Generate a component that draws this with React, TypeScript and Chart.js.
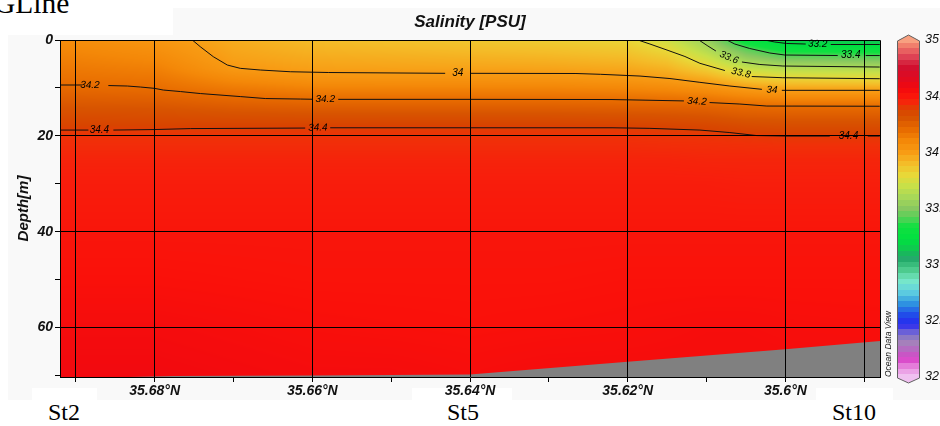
import { useEffect, useRef } from 'react';
import { Chart, registerables } from 'chart.js';

Chart.register(...registerables);

// Section extent: latitude (reversed, north on the left) and depth (down)
const latMin = 35.588;
const latMax = 35.692;
const depthMax = 70.3;
const salinityMin = 32;
const salinityMax = 35;

const xTickValues = [35.59, 35.6, 35.61, 35.62, 35.63, 35.64, 35.65, 35.66, 35.67, 35.68, 35.69];
const xTickLabels = ['', '35.6°N', '', '35.62°N', '', '35.64°N', '', '35.66°N', '', '35.68°N', ''];
const xGridLats = [35.59, 35.6, 35.62, 35.64, 35.66, 35.68, 35.69];

const depthTicks = [0, 10, 20, 30, 40, 50, 60, 70];
const depthTickLabels = ['0', '', '20', '', '40', '', '60', ''];
const depthGrid = [0, 20, 40, 60];

const colourbarTicks = [32, 32.5, 33, 33.5, 34, 34.5, 35];
const colourbarTickLabels = ['32', '32.5', '33', '33.5', '34', '34.5', '35'];

// Gridded salinity [PSU]: one profile per latitude, values at fieldDepths
const fieldLatitudes = [35.692, 35.68, 35.67, 35.66, 35.65, 35.64, 35.63, 35.62, 35.615, 35.61, 35.605, 35.6, 35.588];
const fieldDepths = [0, 2, 4, 6, 8, 10, 12, 14, 16, 18, 20, 25, 30, 40, 50, 60, 70];
const salinityField = [
  [34.08, 34.106, 34.131, 34.157, 34.182, 34.213, 34.256, 34.298, 34.341, 34.383, 34.415, 34.455, 34.475, 34.5, 34.52, 34.55, 34.57],
  [34.03, 34.064, 34.097, 34.131, 34.165, 34.198, 34.244, 34.291, 34.337, 34.384, 34.415, 34.455, 34.475, 34.5, 34.52, 34.55, 34.57],
  [33.95, 33.968, 33.987, 34.018, 34.082, 34.146, 34.209, 34.268, 34.326, 34.385, 34.415, 34.455, 34.475, 34.5, 34.515, 34.54, 34.56],
  [33.9, 33.929, 33.959, 33.988, 34.044, 34.116, 34.189, 34.256, 34.321, 34.387, 34.415, 34.455, 34.475, 34.5, 34.51, 34.53, 34.55],
  [33.88, 33.915, 33.95, 33.984, 34.04, 34.113, 34.185, 34.254, 34.322, 34.39, 34.415, 34.455, 34.475, 34.5, 34.51, 34.525, 34.55],
  [33.86, 33.9, 33.941, 33.981, 34.039, 34.112, 34.185, 34.254, 34.322, 34.39, 34.415, 34.455, 34.475, 34.5, 34.51, 34.52, 34.54],
  [33.84, 33.886, 33.931, 33.977, 34.037, 34.111, 34.185, 34.254, 34.322, 34.39, 34.415, 34.455, 34.475, 34.5, 34.51, 34.525, 34.55],
  [33.81, 33.861, 33.911, 33.962, 34.02, 34.098, 34.176, 34.248, 34.317, 34.386, 34.415, 34.455, 34.475, 34.5, 34.515, 34.53, 34.55],
  [33.72, 33.796, 33.863, 33.93, 33.997, 34.083, 34.17, 34.244, 34.312, 34.38, 34.41, 34.455, 34.475, 34.5, 34.515, 34.535, 34.55],
  [33.55, 33.631, 33.733, 33.839, 33.95, 34.054, 34.151, 34.237, 34.302, 34.369, 34.41, 34.45, 34.475, 34.5, 34.515, 34.54, 34.55],
  [33.28, 33.431, 33.556, 33.7, 33.853, 34.002, 34.115, 34.216, 34.274, 34.345, 34.405, 34.45, 34.47, 34.5, 34.515, 34.54, 34.55],
  [33.15, 33.306, 33.476, 33.648, 33.815, 33.963, 34.091, 34.206, 34.271, 34.335, 34.4, 34.45, 34.47, 34.5, 34.515, 34.535, 34.55],
  [33.1, 33.292, 33.463, 33.63, 33.793, 33.959, 34.091, 34.206, 34.271, 34.335, 34.4, 34.45, 34.47, 34.5, 34.515, 34.53, 34.55],
];

// Sea floor along the section
const bottomLats = [35.692, 35.6775, 35.66, 35.64, 35.62, 35.6, 35.588];
const bottomDepths = [70.6, 70.1, 70.0, 69.8, 67.1, 64.5, 62.8];

// Isohalines as [lat, depth] segments; each label sits between two segments
type Pt = [number, number];
interface Contour { level: string; segments: Pt[][]; labels: Pt[] }

const contour332: Contour = {
  level: '33.2',
  segments: [
    [[35.60262, 0], [35.60135, 0.42], [35.59983, 0.73], [35.59742, 0.84]],
    [[35.59425, 0.94], [35.58803, 0.94]],
  ],
  labels: [[35.5959, 0.84]],
};
const contour334: Contour = {
  level: '33.4',
  segments: [
    [[35.60743, 0], [35.60642, 0.84], [35.60452, 1.77], [35.60198, 2.71], [35.60008, 3.13], [35.59336, 3.24]],
    [[35.58981, 3.24], [35.58803, 3.24]],
  ],
  labels: [[35.59171, 3.24]],
};
const contour336: Contour = {
  level: '33.6',
  segments: [
    [[35.61097, 0], [35.60983, 1.25], [35.60881, 2.3]],
    [[35.60551, 4.59], [35.60323, 5.11], [35.60033, 5.43], [35.58803, 5.64]],
  ],
  labels: [[35.60716, 3.65]],
};
const contour338: Contour = {
  level: '33.8',
  segments: [
    [[35.6187, 0], [35.61718, 0.84], [35.61502, 2.09], [35.61274, 3.44], [35.61084, 4.86], [35.60767, 6.37]],
    [[35.60427, 7.62], [35.60033, 7.87], [35.58803, 8.08]],
  ],
  labels: [[35.60564, 6.89]],
};
const contour340: Contour = {
  level: '34',
  segments: [
    [[35.67522, 0], [35.67421, 1.4], [35.67256, 3.48], [35.67078, 5.22], [35.66914, 5.91], [35.6666, 6.26],
      [35.6628, 6.62], [35.65798, 6.78], [35.64315, 6.95]],
    [[35.64, 6.95], [35.62656, 6.99], [35.62342, 7.16], [35.61844, 7.52], [35.61464, 8.04], [35.61084, 8.83],
      [35.60704, 9.6], [35.60298, 10.29]],
    [[35.60045, 10.5], [35.58803, 10.5]],
  ],
  labels: [[35.64154, 6.89], [35.60171, 10.44]],
};
const contour342: Contour = {
  level: '34.2',
  segments: [
    [[35.69195, 9.39], [35.68916, 9.39]],
    [[35.68587, 9.5], [35.68346, 9.6], [35.68181, 9.81], [35.68004, 10.08], [35.6789, 10.44], [35.67674, 10.75],
      [35.67421, 11.17], [35.66914, 11.8], [35.66597, 12.21], [35.66153, 12.32], [35.66001, 12.36]],
    [[35.65671, 12.38], [35.64, 12.38], [35.62199, 12.42], [35.61844, 12.53], [35.61287, 12.71]],
    [[35.60962, 13.05], [35.60577, 13.36], [35.60235, 13.78], [35.58803, 13.82]],
  ],
  labels: [[35.6882, 9.43], [35.65836, 12.36], [35.61122, 12.84]],
};
const contour344: Contour = {
  level: '34.4',
  segments: [
    [[35.69195, 18.79], [35.6884, 18.79]],
    [[35.68523, 18.79], [35.68004, 18.68], [35.67548, 18.48], [35.6609, 18.37]],
    [[35.65773, 18.31], [35.64, 18.31], [35.62199, 18.31], [35.61718, 18.43], [35.61084, 18.79], [35.60704, 19.31],
      [35.60362, 19.94], [35.59994, 20.04], [35.59437, 20.04]],
    [[35.58955, 20.04], [35.58803, 20.04]],
  ],
  labels: [[35.687, 18.79], [35.6593, 18.31], [35.592, 20.04]],
};
const contours = [contour332, contour334, contour336, contour338, contour340, contour342, contour344];

// Salinity colour palette
const paletteValues = [
  32.0, 32.08, 32.16, 32.26, 32.32, 32.4, 32.47, 32.56, 32.66, 32.76, 32.86, 32.96, 33.06, 33.14, 33.22, 33.34,
  33.42, 33.5, 33.6, 33.7, 33.8, 33.9, 34.0, 34.1, 34.2, 34.3, 34.38, 34.42, 34.47, 34.52, 34.58, 34.66, 34.76,
  34.86, 34.94, 35.0,
];
const paletteColours = [
  '#f0c0f0', '#e890e0', '#d844c8', '#b070c0', '#a088b8', '#6a60d8', '#2828f0', '#2050e8', '#3098e0', '#60d0e0',
  '#78e8c8', '#48c888', '#20a868', '#10c850', '#00e040', '#10e040', '#58d058', '#88c860', '#a8d858', '#c8e048',
  '#e8d838', '#f4bc28', '#f89c14', '#f48808', '#e86c00', '#d85400', '#d84400', '#f03008', '#f81e0c', '#fa100a',
  '#f00810', '#e00a20', '#d01030', '#e04858', '#f07868', '#f8a080',
];
const paletteRgb = paletteColours.map((h) => [
  parseInt(h.slice(1, 3), 16),
  parseInt(h.slice(3, 5), 16),
  parseInt(h.slice(5, 7), 16),
]);

function colourFor(v: number): number[] {
  const n = paletteValues.length;
  if (v <= paletteValues[0]) return paletteRgb[0];
  if (v >= paletteValues[n - 1]) return paletteRgb[n - 1];
  let k = 0;
  while (v > paletteValues[k + 1]) k++;
  const t = (v - paletteValues[k]) / (paletteValues[k + 1] - paletteValues[k]);
  const a = paletteRgb[k];
  const b = paletteRgb[k + 1];
  return [a[0] + (b[0] - a[0]) * t, a[1] + (b[1] - a[1]) * t, a[2] + (b[2] - a[2]) * t];
}

function sampleSalinity(lat: number, depth: number): number {
  const nL = fieldLatitudes.length;
  const nD = fieldDepths.length;
  let i = 0;
  while (i < nL - 2 && lat < fieldLatitudes[i + 1]) i++;
  let tx = (fieldLatitudes[i] - lat) / (fieldLatitudes[i] - fieldLatitudes[i + 1]);
  tx = Math.min(1, Math.max(0, tx));
  let j = 0;
  while (j < nD - 2 && depth > fieldDepths[j + 1]) j++;
  let ty = (depth - fieldDepths[j]) / (fieldDepths[j + 1] - fieldDepths[j]);
  ty = Math.min(1, Math.max(0, ty));
  const a = salinityField[i][j];
  const b = salinityField[i + 1][j];
  const c = salinityField[i][j + 1];
  const d = salinityField[i + 1][j + 1];
  return (a * (1 - tx) + b * tx) * (1 - ty) + (c * (1 - tx) + d * tx) * ty;
}

const fieldPlugin = {
  id: 'salinityField',
  beforeDatasetsDraw(chart: any) {
    const { ctx, chartArea: a, scales } = chart;
    const xs = scales.x;
    const ys = scales.y;
    const left = Math.round(a.left);
    const top = Math.round(a.top);
    const w = Math.round(a.right) - left;
    const h = Math.round(a.bottom) - top;
    const off = document.createElement('canvas');
    off.width = w;
    off.height = h;
    const octx = off.getContext('2d')!;
    const img = octx.createImageData(w, h);
    const lats: number[] = [];
    for (let i = 0; i < w; i++) lats.push(xs.getValueForPixel(left + i + 0.5));
    for (let j = 0; j < h; j++) {
      const d = ys.getValueForPixel(top + j + 0.5);
      for (let i = 0; i < w; i++) {
        const c = colourFor(sampleSalinity(lats[i], d));
        const p = (j * w + i) * 4;
        img.data[p] = c[0];
        img.data[p + 1] = c[1];
        img.data[p + 2] = c[2];
        img.data[p + 3] = 255;
      }
    }
    octx.putImageData(img, 0, 0);
    ctx.drawImage(off, left, top);
  },
};

const contourLabelPlugin = {
  id: 'contourLabels',
  afterDatasetsDraw(chart: any) {
    const { ctx, scales } = chart;
    const xs = scales.x;
    const ys = scales.y;
    ctx.save();
    ctx.font = 'italic 10px "Liberation Sans", Arial, sans-serif';
    ctx.fillStyle = '#000';
    ctx.textAlign = 'center';
    ctx.textBaseline = 'middle';
    contours.forEach((c) => {
      c.labels.forEach((pt, k) => {
        const prev = c.segments[k][c.segments[k].length - 1];
        const next = c.segments[k + 1][0];
        const ang = Math.atan2(
          ys.getPixelForValue(next[1]) - ys.getPixelForValue(prev[1]),
          xs.getPixelForValue(next[0]) - xs.getPixelForValue(prev[0]),
        );
        ctx.save();
        ctx.translate(xs.getPixelForValue(pt[0]), ys.getPixelForValue(pt[1]));
        ctx.rotate(ang);
        ctx.fillText(c.level, 0, 0);
        ctx.restore();
      });
    });
    ctx.restore();
  },
};

const framePlugin = {
  id: 'frameAndColourbar',
  afterDraw(chart: any) {
    const { ctx, chartArea: a, scales } = chart;
    const cb = scales.y2;
    ctx.save();
    // plot frame (top and right edges)
    ctx.strokeStyle = '#000';
    ctx.lineWidth = 1;
    ctx.beginPath();
    ctx.moveTo(Math.round(a.left) + 0.5, Math.round(a.top) + 0.5);
    ctx.lineTo(Math.round(a.right) + 0.5, Math.round(a.top) + 0.5);
    ctx.lineTo(Math.round(a.right) + 0.5, Math.round(a.bottom) + 0.5);
    ctx.stroke();

    // colour bar with pointed ends
    const x0 = Math.round(a.right) + 17;
    const x1 = x0 + 23;
    const xm = (x0 + x1) / 2;
    const yTop = cb.getPixelForValue(salinityMax) + 1;
    const yBot = cb.getPixelForValue(salinityMin) + 1;
    ctx.save();
    ctx.beginPath();
    ctx.moveTo(x0, yTop);
    ctx.lineTo(xm, yTop - 6);
    ctx.lineTo(x1, yTop);
    ctx.lineTo(x1, yBot);
    ctx.lineTo(xm, yBot + 5);
    ctx.lineTo(x0, yBot);
    ctx.closePath();
    ctx.clip();
    for (let py = Math.floor(yTop - 7); py <= Math.ceil(yBot + 6); py++) {
      let v = cb.getValueForPixel(py + 0.5);
      v = Math.min(salinityMax, Math.max(salinityMin, v));
      v = Math.round(v / 0.05) * 0.05;
      const c = colourFor(v);
      ctx.fillStyle = `rgb(${Math.round(c[0])},${Math.round(c[1])},${Math.round(c[2])})`;
      ctx.fillRect(x0, py, x1 - x0, 1);
    }
    ctx.restore();
    ctx.strokeStyle = '#606060';
    ctx.beginPath();
    ctx.moveTo(x0 + 0.5, yTop);
    ctx.lineTo(xm, yTop - 6);
    ctx.lineTo(x1 - 0.5, yTop);
    ctx.lineTo(x1 - 0.5, yBot);
    ctx.lineTo(xm, yBot + 5);
    ctx.lineTo(x0 + 0.5, yBot);
    ctx.closePath();
    ctx.stroke();

    // software credit
    ctx.translate(Math.round(a.right) + 9, Math.round(a.bottom));
    ctx.rotate(-Math.PI / 2);
    ctx.font = 'italic 8.5px "Liberation Sans", Arial, sans-serif';
    ctx.fillStyle = '#222';
    ctx.textAlign = 'left';
    ctx.textBaseline = 'middle';
    ctx.fillText('Ocean Data View', 0, 0);
    ctx.restore();
  },
};

const tickFont = { family: '"Liberation Sans", Arial, sans-serif', size: 14, weight: 'bold' as const, style: 'italic' as const };

export default function App() {
  const canvasRef = useRef<HTMLCanvasElement | null>(null);

  useEffect(() => {
    if (!canvasRef.current) return;
    const datasets: any[] = [
      {
        label: 'Bottom',
        data: bottomLats.map((lat, i) => ({ x: lat, y: bottomDepths[i] })),
        borderColor: '#808080',
        backgroundColor: '#808080',
        borderWidth: 0,
        pointRadius: 0,
        fill: { value: depthMax },
        tension: 0,
      },
    ];
    contours.forEach((c) => {
      c.segments.forEach((seg) => {
        datasets.push({
          label: c.level,
          data: seg.map(([lat, d]) => ({ x: lat, y: d })),
          borderColor: '#111',
          borderWidth: 1,
          pointRadius: 0,
          fill: false,
          tension: 0,
        });
      });
    });

    const chart = new Chart(canvasRef.current, {
      type: 'line',
      data: { datasets },
      plugins: [fieldPlugin, contourLabelPlugin, framePlugin],
      options: {
        responsive: false,
        devicePixelRatio: 1,
        animation: false,
        events: [],
        layout: { padding: 0 },
        plugins: {
          legend: { display: false },
          tooltip: { enabled: false },
          title: {
            display: true,
            text: 'Salinity [PSU]',
            color: '#111',
            font: { family: '"Liberation Sans", Arial, sans-serif', size: 17, weight: 'bold', style: 'italic' },
            padding: { top: 12, bottom: 7.6 },
          },
        },
        scales: {
          x: {
            type: 'linear',
            min: latMin,
            max: latMax,
            reverse: true,
            afterBuildTicks: (s: any) => {
              s.ticks = xTickValues.map((v) => ({ value: v }));
            },
            afterFit: (s: any) => {
              s.height = 49;
            },
            ticks: {
              autoSkip: false,
              maxRotation: 0,
              minRotation: 0,
              padding: 1,
              color: '#111',
              font: tickFont,
              callback: (_v: any, i: number) => xTickLabels[i],
            },
            grid: {
              z: 1,
              color: (c: any) =>
                c.tick && xGridLats.some((l) => Math.abs(l - c.tick.value) < 1e-6) ? '#000' : 'rgba(0,0,0,0)',
              tickColor: '#000',
              tickLength: 5,
              lineWidth: 1,
            },
            border: { display: true, color: '#000', width: 1, z: 1 },
          },
          y: {
            type: 'linear',
            position: 'left',
            min: 0,
            max: depthMax,
            reverse: true,
            afterBuildTicks: (s: any) => {
              s.ticks = depthTicks.map((v) => ({ value: v }));
            },
            afterFit: (s: any) => {
              s.width = 60;
            },
            ticks: {
              padding: 2,
              color: '#111',
              font: tickFont,
              callback: (_v: any, i: number) => depthTickLabels[i],
            },
            grid: {
              z: 1,
              color: (c: any) => (c.tick && depthGrid.includes(c.tick.value) ? '#000' : 'rgba(0,0,0,0)'),
              tickColor: '#000',
              tickLength: 5,
              lineWidth: 1,
            },
            border: { display: true, color: '#000', width: 1, z: 1 },
            title: {
              display: true,
              text: 'Depth[m]',
              color: '#111',
              font: { family: '"Liberation Sans", Arial, sans-serif', size: 15, weight: 'bold', style: 'italic' },
              padding: { top: 15, bottom: 0 },
            },
          },
          y2: {
            type: 'linear',
            position: 'right',
            min: salinityMin,
            max: salinityMax,
            afterBuildTicks: (s: any) => {
              s.ticks = colourbarTicks.map((v) => ({ value: v }));
            },
            afterFit: (s: any) => {
              s.width = 60;
            },
            ticks: {
              padding: 0,
              color: '#111',
              font: { family: '"Liberation Sans", Arial, sans-serif', size: 12.5, style: 'italic' },
              callback: (_v: any, i: number) => colourbarTickLabels[i],
            },
            grid: {
              display: true,
              drawOnChartArea: false,
              drawTicks: true,
              tickLength: 45,
              tickColor: 'rgba(0,0,0,0)',
              color: 'rgba(0,0,0,0)',
            },
            border: { display: false },
          },
        },
      } as any,
    });
    return () => chart.destroy();
  }, []);

  const serif = '"Liberation Serif", "Times New Roman", serif';
  const stBox = (left: number, width: number, textLeft: number, text: string) => (
    <div style={{ position: 'absolute', left, top: 388, width, height: 38, background: '#fff' }}>
      <div
        style={{
          position: 'absolute',
          left: textLeft - left,
          top: 12,
          fontFamily: serif,
          fontSize: 24,
          lineHeight: '24px',
          color: '#000',
          whiteSpace: 'nowrap',
        }}
      >
        {text}
      </div>
    </div>
  );

  return (
    <div style={{ position: 'absolute', left: 0, top: 0, width: 940, height: 426, background: '#fff', overflow: 'hidden' }}>
      <div style={{ position: 'absolute', left: 8, top: 8, width: 932, height: 392, background: '#f9f9f9' }} />
      <div style={{ position: 'absolute', left: 0, top: 0, width: 173, height: 35, background: '#fff', overflow: 'hidden' }}>
        <div
          style={{
            position: 'absolute',
            left: -6,
            top: -12,
            fontFamily: serif,
            fontSize: 29.5,
            lineHeight: '30px',
            color: '#000',
            whiteSpace: 'nowrap',
          }}
        >
          GLine
        </div>
      </div>
      {stBox(32, 65, 48, 'St2')}
      {stBox(412, 100, 447, 'St5')}
      {stBox(816, 77, 832, 'St10')}
      <canvas
        ref={canvasRef}
        width={940}
        height={426}
        style={{ position: 'absolute', left: 0, top: 0, width: 940, height: 426 }}
      />
    </div>
  );
}
